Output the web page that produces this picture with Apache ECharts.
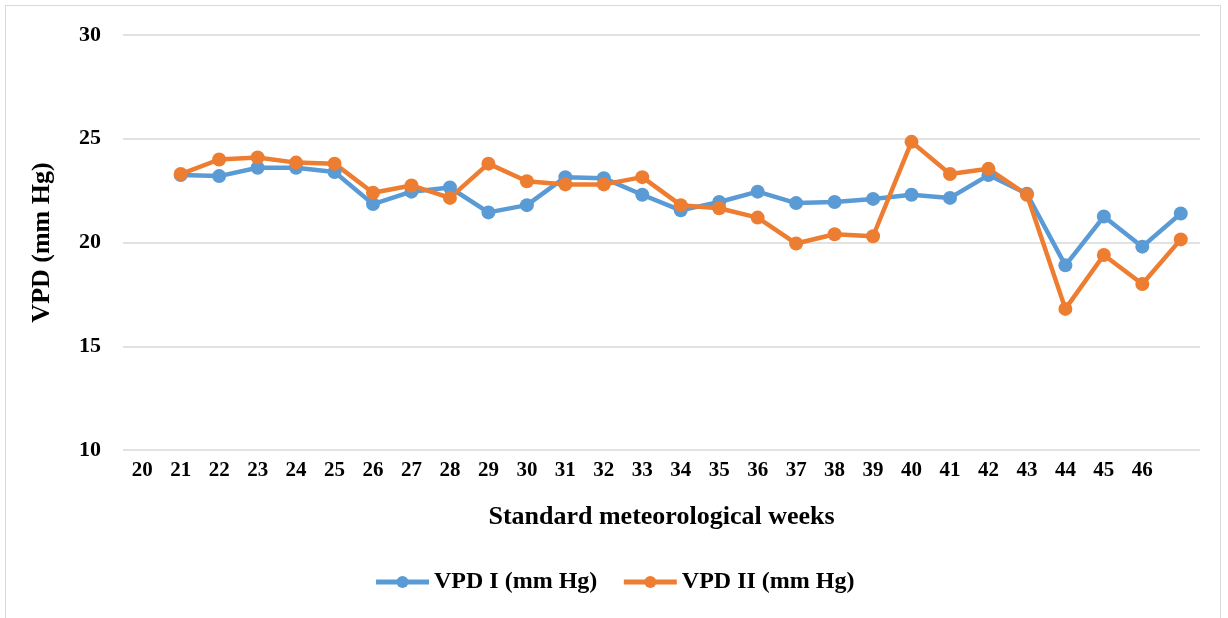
<!DOCTYPE html>
<html>
<head>
<meta charset="utf-8">
<script src="https://cdn.jsdelivr.net/npm/echarts@6/dist/echarts.min.js"></script>
<style>
    html, body { margin: 0; padding: 0; background: #fff; }
    #frame {
        position: absolute; left: 5px; top: 5px; width: 1216px; height: 620px;
        border: 1px solid #d9d9d9; box-sizing: border-box;
    }
    #chart { position: absolute; left: 0; top: 0; width: 1228px; height: 618px; }
</style>
</head>
<body>
<div id="frame"></div>
<div id="chart"></div>
<script>
// week labels (last slot has no label in the original)
const weeks = ['20', '21', '22', '23', '24', '25', '26', '27', '28', '29', '30', '31', '32', '33',
    '34', '35', '36', '37', '38', '39', '40', '41', '42', '43', '44', '45', '46', ''];
const vpd1 = [null, 23.25, 23.2, 23.6, 23.6, 23.4, 21.85, 22.45, 22.65, 21.45, 21.8, 23.15, 23.1,
    22.3, 21.55, 21.95, 22.45, 21.9, 21.95, 22.1, 22.3, 22.15, 23.25, 22.35, 18.9, 21.25, 19.8, 21.4];
const vpd2 = [null, 23.3, 24.0, 24.1, 23.85, 23.8, 22.4, 22.75, 22.15, 23.8, 22.95, 22.8, 22.8,
    23.15, 21.8, 21.65, 21.2, 19.95, 20.4, 20.3, 24.85, 23.3, 23.55, 22.3, 16.8, 19.4, 18.0, 20.15];
const yTicks = [10, 15, 20, 25, 30];

const font = '"Liberation Serif", "Times New Roman", serif';
const chart = echarts.init(document.getElementById('chart'));

function lineSeries(name, data, color) {
    return {
        name: name,
        type: 'line',
        data: data,
        symbol: 'circle',
        symbolSize: 14,
        lineStyle: { width: 4.5, color: color },
        itemStyle: { color: color },
        emphasis: { disabled: true }
    };
}

const option = {
    animation: false,
    grid: { left: 123, right: 28, top: 35, bottom: 168 },
    xAxis: {
        type: 'category',
        data: weeks,
        boundaryGap: true,
        axisLine: { show: false },
        axisTick: { show: false },
        axisLabel: { color: '#000', fontFamily: font, fontWeight: 'bold', fontSize: 21, margin: 10 },
        name: 'Standard meteorological weeks',
        nameLocation: 'middle',
        nameGap: 54,
        nameTextStyle: { color: '#000', fontFamily: font, fontWeight: 'bold', fontSize: 26 }
    },
    yAxis: {
        type: 'value',
        min: yTicks[0],
        max: yTicks[yTicks.length - 1],
        interval: 5,
        axisLine: { show: false },
        axisTick: { show: false },
        splitLine: { lineStyle: { color: '#d9d9d9', width: 1.5 } },
        axisLabel: { color: '#000', fontFamily: font, fontWeight: 'bold', fontSize: 22, margin: 22 },
        name: 'VPD (mm Hg)',
        nameLocation: 'middle',
        nameGap: 68,
        nameTextStyle: { color: '#000', fontFamily: font, fontWeight: 'bold', fontSize: 26 }
    },
    legend: {
        bottom: 19,
        left: 'center',
        itemWidth: 53,
        itemHeight: 15,
        itemGap: 24,
        lineStyle: { width: 5 },
        textStyle: { color: '#000', fontFamily: font, fontWeight: 'bold', fontSize: 24 },
        data: ['VPD I (mm Hg)', 'VPD II (mm Hg)']
    },
    series: [
        lineSeries('VPD I (mm Hg)', vpd1, '#5B9BD5'),
        lineSeries('VPD II (mm Hg)', vpd2, '#ED7D31')
    ]
};
chart.setOption(option);
</script>
</body>
</html>
